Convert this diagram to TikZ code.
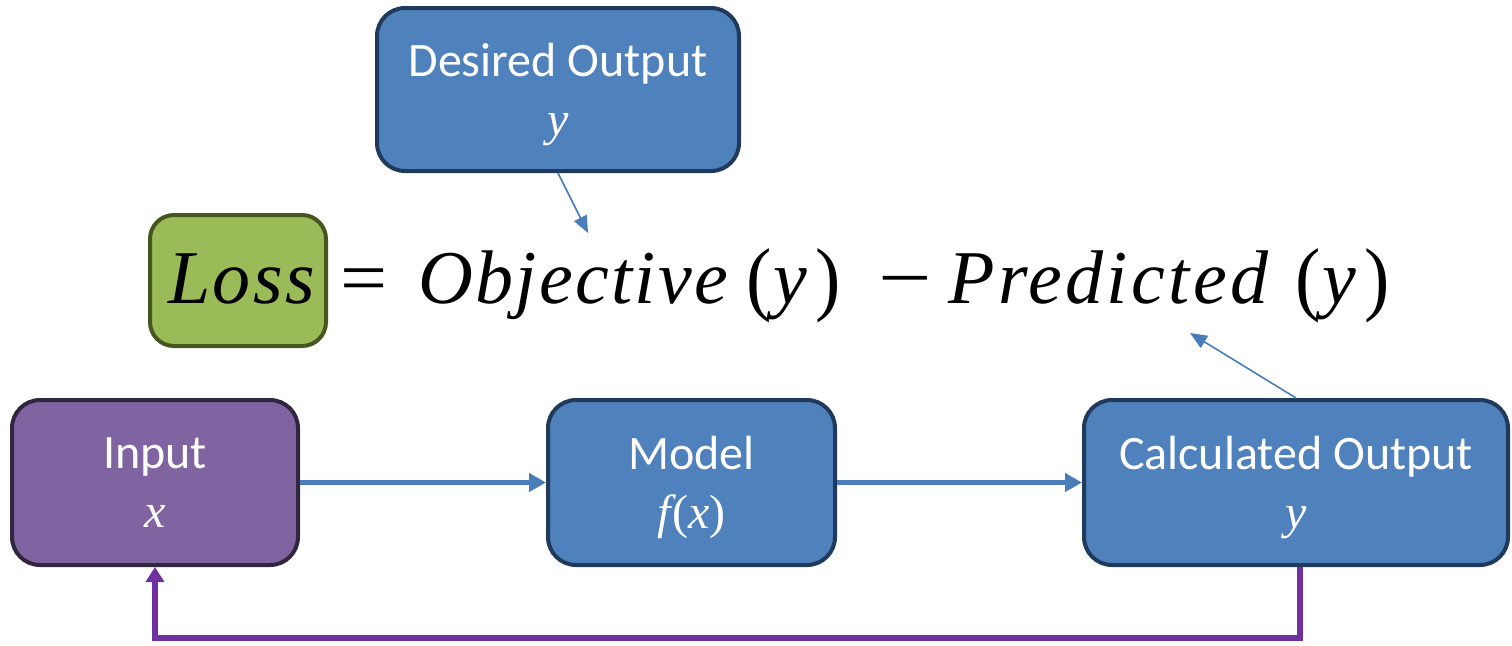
\documentclass[tikz,border=0pt]{standalone}
\usepackage{fontspec}
\usepackage{graphicx}
\setmainfont{Carlito}
\newfontfamily\eqfont{Liberation Serif}
\newfontfamily\eqwide{Liberation Serif}[LetterSpace=4.5]
\newfontfamily\eqmid{Liberation Serif}[LetterSpace=3]
\usetikzlibrary{arrows.meta}

\definecolor{boxblue}{HTML}{4F81BD}
\definecolor{boxblueedge}{HTML}{203A5C}
\definecolor{boxpurple}{HTML}{8064A2}
\definecolor{boxpurpleedge}{HTML}{30263F}
\definecolor{boxgreen}{HTML}{9BBB59}
\definecolor{boxgreenedge}{HTML}{46561F}
\definecolor{linkblue}{HTML}{4A7EBB}
\definecolor{linkpurple}{HTML}{7030A0}

\tikzset{
  block/.style={draw, line width=2pt, rounded corners=14pt, text=white,
    align=center, font=\fontsize{24}{29.5}\selectfont, inner sep=0pt,
    text depth=0pt},
  blueblock/.style={block, fill=boxblue, draw=boxblueedge},
  purpleblock/.style={block, fill=boxpurple, draw=boxpurpleedge},
  lossblock/.style={draw=boxgreenedge, fill=boxgreen, line width=2pt,
    rounded corners=12pt, inner sep=0pt},
  eqpart/.style={anchor=base west, inner sep=0pt,
    font=\eqfont\fontsize{38}{40}\selectfont},
  widepart/.style={eqpart, font=\eqwide\fontsize{38}{40}\selectfont},
  midpart/.style={eqpart, font=\eqmid\fontsize{38}{40}\selectfont},
  flow/.style={draw=linkblue, line width=2.6pt,
    -{Triangle[length=8.5pt,width=9pt]}, color=linkblue},
  pointer/.style={draw=linkblue, line width=0.8pt,
    -{Triangle[length=8.5pt,width=7pt]}, color=linkblue},
  feedback/.style={draw=linkpurple, line width=2.6pt,
    -{Triangle[length=7.5pt,width=9pt]}, color=linkpurple},
}
\newcommand{\vary}[1]{{\eqfont\itshape #1}}
\newcommand{\paren}[1]{\raisebox{-1pt}{\scalebox{1}[1.08]{#1}}}
\newcommand{\argy}{\paren{(}\kern1pt\textit{y}\kern4pt\paren{)}}

\begin{document}
\begin{tikzpicture}[x=0.5pt, y=-0.5pt]
  \useasboundingbox (0,0) rectangle (1512,645);

  % boxes of the pipeline
  \node[blueblock, minimum width=181pt, minimum height=81.5pt]
    (desired) at (558,89.5) {Desired Output\\\vary{y}};
  \node[lossblock, minimum width=88pt, minimum height=65.5pt]
    (loss) at (238,280.5) {};
  \node[purpleblock, minimum width=143pt, minimum height=82.5pt]
    (input) at (155,482.5) {Input\\\vary{x}};
  \node[blueblock, minimum width=143.5pt, minimum height=82.5pt]
    (model) at (691.5,482.5) {Model\\\vary{f}{\eqfont\kern1pt(}\vary{x}{\eqfont)}};
  \node[blueblock, minimum width=212pt, minimum height=82.5pt]
    (calc) at (1296,482.5) {Calculated Output\\\vary{y}};

  % the loss equation
  \node[midpart] (eqloss) at (168,303) {\itshape Loss};
  \node[eqpart] (eqeq) at (340,303) {\scalebox{1.1}[1]{=}};
  \node[midpart] (eqobj) at (418,303) {\itshape Objective};
  \node[eqpart] (eqobjarg) at (746,303) {\argy};
  \node[eqpart] (eqminus) at (878,303) {\scalebox{1.25}[1]{−}};
  \node[widepart] (eqpred) at (948,303) {\itshape Predicted};
  \node[eqpart] (eqpredarg) at (1295,303) {\argy};

  \coordinate (objtip) at (588,233);
  \coordinate (predtip) at (1190,333);

  % connectors
  \draw[flow] (input.east) -- (model.west);
  \draw[flow] (model.east) -- (calc.west);
  \draw[pointer] (desired.south) -- (objtip);
  \draw[pointer] (calc.north) -- (predtip);
  \draw[feedback] ([xshift=2pt]calc.south) -- ++(0,71) -| (input.south);
\end{tikzpicture}
\end{document}
